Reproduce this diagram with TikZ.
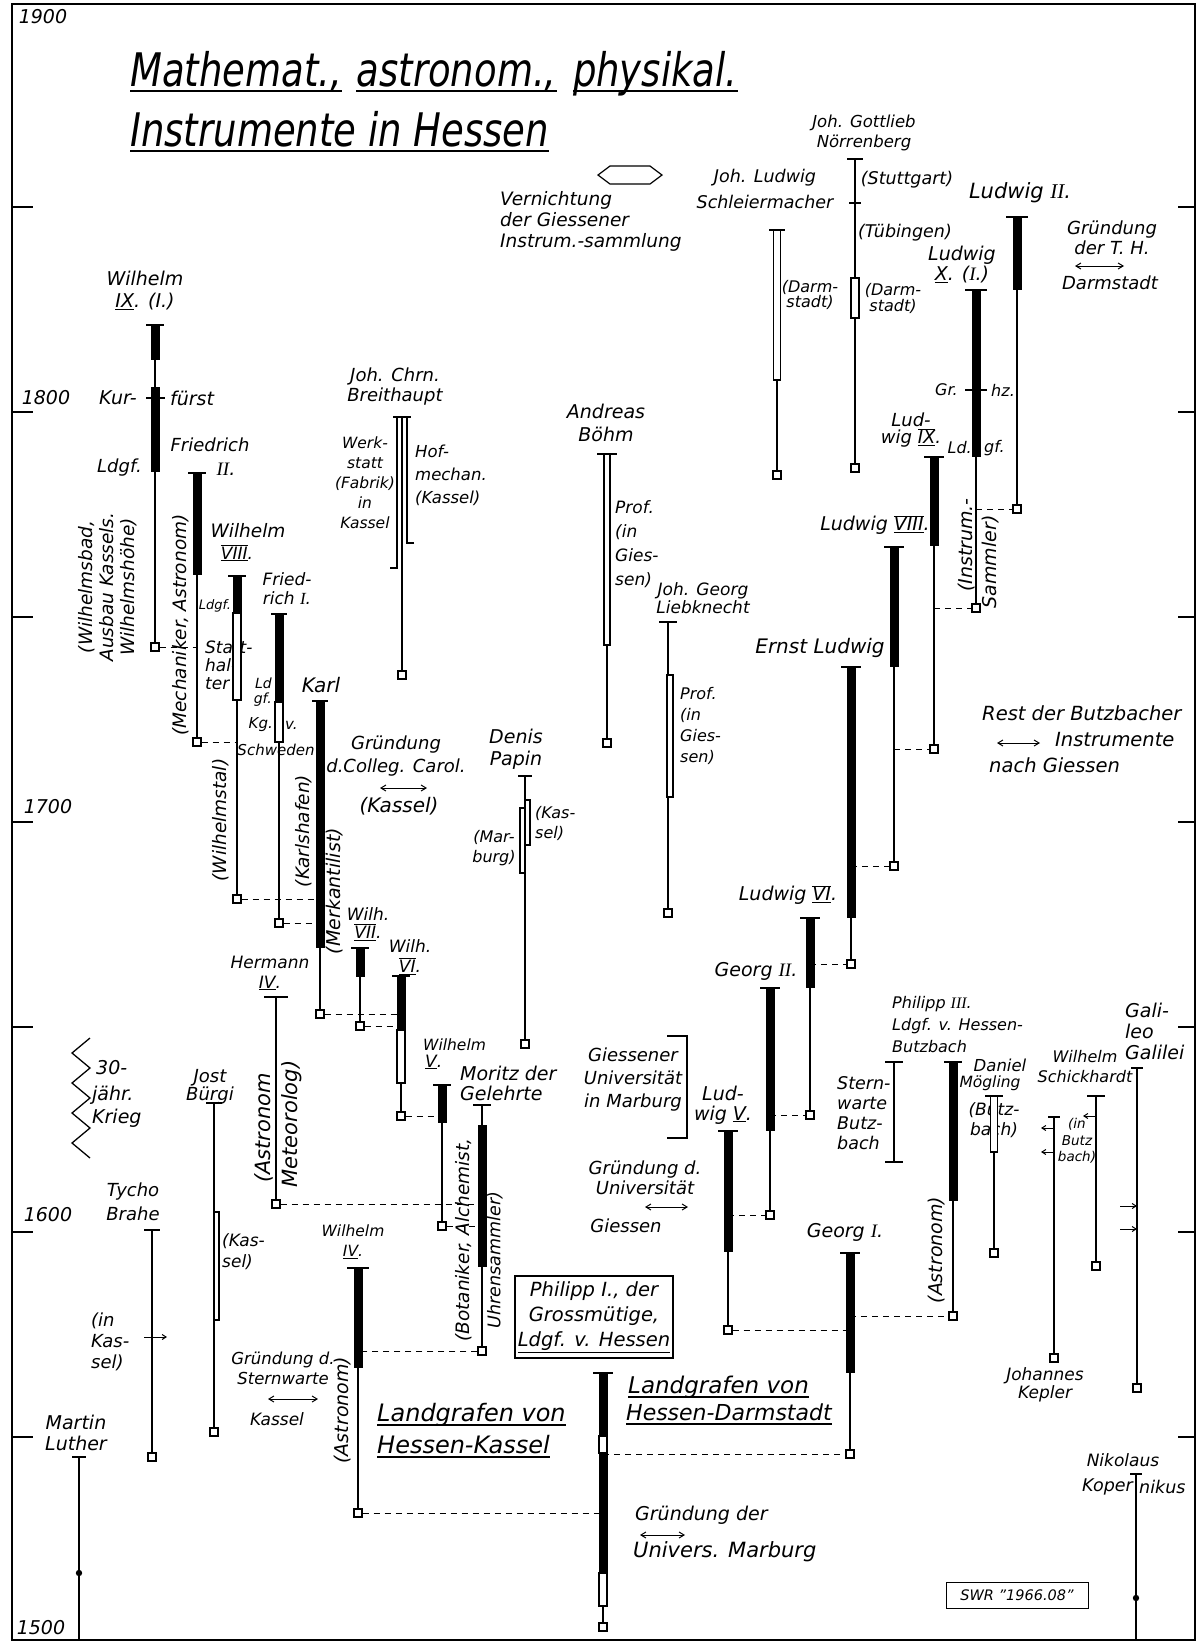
\documentclass[tikz,border=0pt]{standalone}
\usepackage{fontspec}
\usepackage{graphicx}
\setmainfont{DejaVu Sans}
\newfontfamily\rnf{Liberation Serif}
\usetikzlibrary{arrows.meta}
\newcommand{\RN}[1]{{\rnf\itshape #1}}
\newcommand{\RB}[1]{$\overline{\underline{\hbox{#1}}}$}
\newcommand{\UL}[1]{$\underline{\hbox{#1}}$}
\newcommand{\PersonLine}[5]{%
  \coordinate (#1-t) at (#2,#3);
  \coordinate (#1-b) at (#2,#4);
  \draw[life] (#1-t) -- (#1-b);
  \draw[capl] ([xshift=-#5]#1-t) -- ([xshift=#5]#1-t);}
\newcommand{\ThickSeg}[3]{\fill (#1-4.5,#2) rectangle (#1+4.5,#3);}
\newcommand{\HollowSeg}[4]{\draw[thinb,fill=white] (#1-#4,#2) rectangle (#1+#4,#3);}
\newcommand{\LifeSq}[1]{\node[sqn] (#1-sq) at (#1-b) {};}
\begin{document}
\begin{tikzpicture}[x=1pt,y=-1pt,
  life/.style={line width=1.3pt},
  thinb/.style={line width=1.1pt},
  capl/.style={line width=2pt},
  dashl/.style={line width=1pt, dash pattern=on 6pt off 5pt},
  sqn/.style={draw, line width=1.2pt, fill=white, minimum size=8pt, inner sep=0pt},
  lab/.style 2 args={font=\fontsize{#1}{#2}\selectfont\itshape, inner sep=0pt, align=center},
  ttl/.style={font=\fontsize{37}{40}\selectfont\itshape, inner sep=0pt},
  darr/.style={{Straight Barb[length=5pt,width=6pt]}-{Straight Barb[length=5pt,width=6pt]}, line width=1pt},
  sarr/.style={-{Straight Barb[length=4pt,width=5pt]}, line width=1pt}]
\useasboundingbox (0,0) rectangle (1197,1642);
% frame and ticks
\draw[line width=2.2pt] (12,4) rectangle (1195,1640);
\foreach \yy in {207,412,617,822,1027,1232,1437} {
  \draw[line width=2pt] (12,\yy) -- (33,\yy);
  \draw[line width=2pt] (1178,\yy) -- (1195,\yy);}
\node[lab={19}{21}] (y1900) at (43,17) {1900};
\node[lab={19}{21}] (y1800) at (46,398) {1800};
\node[lab={19}{21}] (y1700) at (48,807) {1700};
\node[lab={19}{21}] (y1600) at (48,1215) {1600};
\node[lab={19}{21}] (y1500) at (41,1628) {1500};
% title
\node[ttl, anchor=base west] (t1) at (130,86) {\scalebox{1}[1.25]{Mathemat.,}};
\node[ttl, anchor=base west] (t2) at ([xshift=14pt]t1.base east) {\scalebox{1}[1.25]{astronom.,}};
\node[ttl, anchor=base west] (t3) at ([xshift=16pt]t2.base east) {\scalebox{1}[1.25]{physikal.}};
\node[ttl, anchor=base west] (t4) at (130,146) {\scalebox{1}[1.25]{Instrumente in Hessen}};
\foreach \n in {t1,t2,t3,t4} {\draw[line width=1.5pt] ([yshift=-5pt]\n.base west) -- ([yshift=-5pt]\n.base east);}
% Vernichtung
\draw[line width=1.2pt] (598,175) -- (610,166) -- (650,166) -- (662,175) -- (650,184) -- (610,184) -- cycle;
\node[lab={18.5}{21}, align=left, anchor=west] (ver) at (500,221) {Vernichtung\\der Giessener\\Instrum.-sammlung};
% ---------- labels Kassel ----------
\node[lab={19}{22}] (w9l) at (145,291) {Wilhelm\\\UL{IX}. (I.)};
\node[lab={19}{21}, anchor=east] (w9k) at (137,398) {Kur-};
\node[lab={19}{21}, anchor=west] (w9f) at (170,398) {fürst};
\node[lab={18}{21}, anchor=east] (w9d) at (142,468) {Ldgf.};
\node[lab={18.5}{21}, rotate=90] (w9r) at (108,587) {(Wilhelmsbad,\\Ausbau Kassels.\\Wilhelmshöhe)};
\node[lab={18}{21}] (f2l) at (210,445) {Friedrich};
\node[lab={19}{21}] (f2n) at (226,469) {\RN{II}.};
\node[lab={18.5}{21}, rotate=90] (f2r) at (181,625) {(Mechaniker, Astronom)};
\node[lab={18.5}{21}] (w8l) at (248,531) {Wilhelm};
\node[lab={17}{21}] (w8n) at (237,553) {\RB{VIII}.};
\node[lab={13}{15}] (w8d) at (215,606) {Ldgf.};
\node[lab={17}{18}, align=left, anchor=west] (w8s) at (205,665) {Statt-\\hal-\\ter};
\node[lab={17}{19}] (f1l) at (287,589) {Fried-\\rich \RN{I}.};
\node[lab={14}{15}, align=right, anchor=east] (f1d) at (272,692) {Ld\\gf.};
\node[lab={15}{17}, anchor=east] (f1k) at (273,725) {Kg.};
\node[lab={15}{17}, anchor=west] (f1v) at (285,725) {v.};
\node[lab={15}{17}] (f1s) at (276,750) {Schweden};
\node[lab={20}{22}] (karll) at (321,685) {Karl};
\node[lab={18.5}{21}, rotate=90] (wst) at (221,820) {(Wilhelmstal)};
\node[lab={18.5}{21}, rotate=90] (khf) at (304,831) {(Karlshafen)};
\node[lab={19}{21}, rotate=90] (mrk) at (335,891) {(Merkantilist)};
\node[lab={17}{18}] (w7l) at (368,924) {Wilh.\\\RB{VII}.};
\node[lab={17}{20}] (w6l) at (410,957) {Wilh.\\\RB{VI}.};
\node[lab={17}{20}] (h4l) at (270,973) {Hermann\\\UL{IV}.};
\node[lab={21}{21}, rotate=90] (h4a) at (264,1128) {(Astronom};
\node[lab={21}{21}, rotate=90] (h4m) at (292,1124) {Meteorolog)};
\node[lab={15.5}{19}, anchor=west] (w5l) at (423,1045) {Wilhelm};
\node[lab={17}{19}, anchor=west] (w5n) at (425,1062) {\UL{V}.};
\node[lab={19}{20}, align=left, anchor=west] (morl) at (460,1083) {Moritz der\\Gelehrte};
\node[lab={18.5}{21}, rotate=90] (mora) at (464,1240) {(Botaniker, Alchemist,};
\node[lab={17.5}{21}, rotate=90] (moru) at (495,1260) {Uhrensammler)};
\node[draw, line width=1.2pt, minimum width=158pt, minimum height=82pt, inner sep=2pt, align=center, font=\fontsize{19.5}{25}\selectfont\itshape] (ph1) at (594,1317) {Philipp I., der\\Grossmütige,\\\underline{Ldgf. v. Hessen}};
\node[lab={15.5}{20}] (w4l) at (353,1242) {Wilhelm\\\UL{IV}.};
\node[lab={19}{21}, rotate=90] (w4a) at (343,1410) {(Astronom)};
\node[lab={16.5}{20}] (stw) at (283,1368) {Gründung d.\\Sternwarte};
\node[lab={17}{20}] (stwk) at (277,1419) {Kassel};
\node[lab={24}{26}, anchor=base west] (hk1) at (377,1421) {Landgrafen von};
\node[lab={24}{26}, anchor=base west] (hk2) at (377,1453) {Hessen-Kassel};
\node[lab={23}{26}, anchor=base west] (hd1) at (628,1393) {Landgrafen von};
\node[lab={22}{26}, anchor=base west] (hd2) at (626,1420) {Hessen-Darmstadt};
\foreach \n in {hk1,hk2,hd1,hd2} {\draw[line width=1.4pt] ([yshift=-4pt]\n.base west) -- ([yshift=-4pt]\n.base east);}
\node[lab={19}{21}, anchor=west] (um1) at (635,1515) {Gründung der};
\node[lab={21}{22}, anchor=west] (um2) at (633,1552) {Univers. Marburg};
\node[draw, line width=1pt, minimum width=142pt, minimum height=26pt, font=\fontsize{14.5}{17}\selectfont\itshape] (swr) at (1017,1595) {SWR "1966.08"};
% ---------- labels scholars ----------
\node[lab={17}{20}] (kopl) at (1123,1460) {Nikolaus};
\node[lab={17.5}{20}, anchor=east] (kop1) at (1133,1487) {Koper};
\node[lab={17.5}{20}, anchor=west] (kop2) at (1139,1487) {nikus};
\node[lab={17}{18}] (kepl) at (1045,1385) {Johannes\\Kepler};
\node[lab={19}{21}, align=left, anchor=west] (gall) at (1125,1031) {Gali-\\leo\\Galilei};
\node[lab={16}{20}] (sckl) at (1085,1067) {Wilhelm\\Schickhardt};
\node[lab={13.5}{16.5}] (sckb) at (1077,1141) {(in\\Butz\\bach)};
\node[lab={16.5}{18}] (moel1) at (1000,1065) {Daniel};
\node[lab={15.5}{18}] (moel2) at (990,1083) {Mögling};
\node[lab={17}{20}] (moeb) at (994,1120) {(Butz-\\bach)};
\node[lab={16}{22}, align=left, anchor=west] (p3l) at (892,1025) {Philipp \RN{III}.\\Ldgf. v. Hessen-\\Butzbach};
\node[lab={19}{21}, rotate=90] (p3a) at (937,1250) {(Astronom)};
\node[lab={17.5}{20}, align=left, anchor=west] (stb) at (837,1113) {Stern-\\warte\\Butz-\\bach};
\node[lab={19}{21}] (g1l) at (845,1232) {Georg \RN{I}.};
\node[lab={19}{20}] (l5l) at (723,1105) {Lud-\\wig \UL{V}.};
\node[lab={19}{21}] (g2l) at (756,971) {Georg \RN{II}.};
\node[lab={18}{23}] (giu) at (633,1080) {Giessener\\Universität\\in Marburg};
\node[lab={18}{20}] (gug) at (645,1178) {Gründung d.\\Universität};
\node[lab={18}{20}] (gug2) at (626,1226) {Giessen};
\node[lab={19}{21}] (l6l) at (788,895) {Ludwig \RB{VI}.};
\node[lab={20}{22}] (ell) at (820,648) {Ernst Ludwig};
\node[lab={19}{21}] (l8l) at (875,525) {Ludwig \RB{VIII}.};
\node[lab={18}{17}] (l9l) at (911,430) {Lud-\\wig \RB{IX}.};
\node[lab={16}{18}, anchor=east] (l9d1) at (972,448) {Ld.};
\node[lab={16}{18}, anchor=west] (l9d2) at (984,448) {gf.};
\node[lab={19}{20}, rotate=90] (ins1) at (967,545) {(Instrum.-};
\node[lab={19}{20}, rotate=90] (ins2) at (991,562) {Sammler)};
\node[lab={19}{20}] (l10l) at (962,265) {Ludwig\\\UL{X}. (\RN{I}.)};
\node[lab={16}{18}, anchor=east] (gr) at (958,390) {Gr.};
\node[lab={16}{18}, anchor=west] (hz) at (991,390) {hz.};
\node[lab={21}{22}] (l2l) at (1020,193) {Ludwig \RN{II}.};
\node[lab={18}{20}] (th1) at (1112,238) {Gründung\\der T. H.};
\node[lab={18}{20}] (th2) at (1110,283) {Darmstadt};
\node[lab={16.5}{20}] (norl) at (864,133) {Joh. Gottlieb\\Nörrenberg};
\node[lab={17.5}{20}] (nors) at (907,180) {(Stuttgart)};
\node[lab={17.5}{20}] (nort) at (905,233) {(Tübingen)};
\node[lab={16}{16}] (nord) at (893,298) {(Darm-\\stadt)};
\node[lab={17.5}{26}] (schl) at (765,189) {Joh. Ludwig\\Schleiermacher};
\node[lab={16}{15}] (schd) at (810,295) {(Darm-\\stadt)};
\node[lab={18}{20}] (brel) at (395,387) {Joh. Chrn.\\Breithaupt};
\node[lab={15.5}{20}] (brew) at (365,483) {Werk-\\statt\\(Fabrik)\\in\\Kassel};
\node[lab={16.5}{23}, align=left, anchor=west] (breh) at (415,475) {Hof-\\mechan.\\(Kassel)};
\node[lab={19}{23}] (boel) at (606,423) {Andreas\\Böhm};
\node[lab={17}{24}, align=left, anchor=west] (boep) at (615,544) {Prof.\\(in\\Gies-\\sen)};
\node[lab={17}{18}] (liel) at (703,598) {Joh. Georg\\Liebknecht};
\node[lab={16}{21}, align=left, anchor=west] (liep) at (680,726) {Prof.\\(in\\Gies-\\sen)};
\node[lab={19}{22}] (papl) at (516,749) {Denis\\Papin};
\node[lab={16}{20}, align=left, anchor=west] (papk) at (535,823) {(Kas-\\sel)};
\node[lab={16}{20}] (papm) at (494,848) {(Mar-\\burg)};
\node[lab={18}{23}] (col1) at (396,756) {Gründung\\d.Colleg. Carol.};
\node[lab={20}{22}] (col2) at (399,806) {(Kassel)};
\node[lab={19.5}{21}, anchor=west] (rest1) at (982,713) {Rest der Butzbacher};
\node[lab={19.5}{21}, anchor=west] (rest2) at (1055,740) {Instrumente};
\node[lab={19.5}{21}, anchor=west] (rest3) at (989,765) {nach Giessen};
\node[lab={19}{21}, anchor=west] (war1) at (96,1068) {30-};
\node[lab={19}{21}, anchor=west] (war2) at (92,1095) {jähr.};
\node[lab={19}{21}, anchor=west] (war3) at (92,1118) {Krieg};
\draw[line width=1.3pt] (90,1038) -- (72,1053) -- (90,1068) -- (72,1083) -- (90,1098) -- (72,1113) -- (90,1128) -- (72,1143) -- (90,1158);
\node[lab={18}{18}] (buel) at (210,1087) {Jost\\Bürgi};
\node[lab={17}{21}, align=left, anchor=west] (buek) at (222,1252) {(Kas-\\sel)};
\node[lab={18}{24}] (tyl) at (133,1202) {Tycho\\Brahe};
\node[lab={18}{21}, align=left, anchor=west] (tyk) at (91,1342) {(in\\Kas-\\sel)};
\node[lab={19}{21}] (lul) at (76,1433) {Martin\\Luther};
% ---------- double arrows ----------
\draw[darr] (268,1399) -- (318,1399);
\draw[darr] (380,788) -- (427,788);
\draw[darr] (640,1535) -- (685,1535);
\draw[darr] (645,1207) -- (688,1207);
\draw[darr] (997,743) -- (1040,743);
\draw[darr] (1075,266) -- (1124,266);
% brackets
\draw[thinb] (667,1036) -- (687,1036) -- (687,1138) -- (667,1138);
% ---------- life lines: Hessen-Kassel ----------
\PersonLine{w9}{155}{325}{647}{9}
\ThickSeg{155}{325}{360}\ThickSeg{155}{387}{472}
\draw[capl] (146,398) -- (165,398);
\PersonLine{f2}{197}{473}{742}{9}
\ThickSeg{197}{473}{575}
\PersonLine{w8}{237}{576}{899}{9}
\ThickSeg{237}{576}{613}\HollowSeg{237}{613}{700}{4}
\PersonLine{f1}{279}{614}{923}{8}
\ThickSeg{279}{614}{702}\HollowSeg{279}{702}{742}{4}
\PersonLine{karl}{320}{701}{1014}{8}
\ThickSeg{320}{701}{948}
\PersonLine{w7}{360}{948}{1026}{9}
\ThickSeg{360}{948}{977}
\PersonLine{w6}{401}{976}{1116}{9}
\ThickSeg{401}{976}{1030}\HollowSeg{401}{1030}{1083}{4}
\PersonLine{w5}{442}{1085}{1226}{9}
\ThickSeg{442}{1085}{1123}
\PersonLine{mor}{482}{1105}{1351}{9}
\ThickSeg{482}{1125}{1267}
\PersonLine{h4}{276}{997}{1204}{12}
\PersonLine{w4}{358}{1268}{1513}{11}
\ThickSeg{358}{1268}{1368}
\PersonLine{ph}{603}{1373}{1627}{10}
\ThickSeg{603}{1373}{1436}\HollowSeg{603}{1436}{1453}{4}\ThickSeg{603}{1453}{1573}\HollowSeg{603}{1573}{1606}{4}
% ---------- Hessen-Darmstadt ----------
\PersonLine{g1}{850}{1253}{1454}{10}
\ThickSeg{850}{1253}{1373}
\PersonLine{l5}{728}{1131}{1330}{10}
\ThickSeg{728}{1131}{1252}
\PersonLine{g2}{770}{988}{1215}{10}
\ThickSeg{770}{988}{1131}
\PersonLine{l6}{810}{918}{1115}{10}
\ThickSeg{810}{918}{988}
\PersonLine{el}{851}{667}{964}{10}
\ThickSeg{851}{667}{918}
\PersonLine{l8}{894}{547}{866}{10}
\ThickSeg{894}{547}{667}
\PersonLine{l9}{934}{457}{749}{10}
\ThickSeg{934}{457}{546}
\PersonLine{l10}{976}{290}{608}{11}
\ThickSeg{976}{290}{457}
\draw[capl] (965,390) -- (987,390);
\PersonLine{l2}{1017}{217}{509}{11}
\ThickSeg{1017}{217}{290}
\PersonLine{p3}{953}{1062}{1316}{9}
\ThickSeg{953}{1062}{1201}
% ---------- scholars ----------
\PersonLine{nor}{855}{159}{468}{8}
\draw[thinb] (849,203) -- (861,203);
\HollowSeg{855}{278}{318}{4}
\PersonLine{sch}{777}{230}{475}{8}
\HollowSeg{777}{230}{380}{3.5}
\PersonLine{bre}{402}{417}{675}{9}
\draw[thinb] (390,568) -- (397,568) -- (397,417);
\draw[thinb] (414,543) -- (407,543) -- (407,417);
\PersonLine{boe}{607}{454}{743}{10}
\HollowSeg{607}{454}{645}{3}
\PersonLine{lie}{668}{622}{913}{9}
\HollowSeg{670}{675}{797}{3}
\PersonLine{pap}{525}{776}{1044}{7}
\HollowSeg{527.5}{800}{845}{2.5}\HollowSeg{522.5}{808}{873}{2.5}
\PersonLine{bue}{214}{1103}{1432}{8}
\HollowSeg{216.5}{1212}{1320}{2.5}
\PersonLine{ty}{152}{1230}{1457}{8}
\PersonLine{moe}{994}{1096}{1253}{9}
\HollowSeg{994}{1096}{1152}{3.5}
\PersonLine{sck}{1096}{1096}{1266}{9}
\PersonLine{kep}{1054}{1117}{1358}{6}
\PersonLine{gal}{1137}{1068}{1388}{6}
\PersonLine{lu}{79}{1457}{1640}{7}
\fill (79,1573) circle (3.2pt);
\PersonLine{kop}{1136}{1474}{1640}{6}
\fill (1136,1598) circle (3.2pt);
\PersonLine{stb}{894}{1062}{1162}{9}
\draw[capl] (885,1162) -- (903,1162);
% small arrows
\draw[sarr] (144,1337) -- (167,1337);
\draw[sarr] (1054,1128) -- (1041,1128);
\draw[sarr] (1054,1152) -- (1041,1152);
\draw[sarr] (1096,1116) -- (1083,1116);
\draw[sarr] (1120,1206) -- (1137,1206);
\draw[sarr] (1120,1229) -- (1137,1229);
% squares
\foreach \p in {w9,f2,w8,f1,karl,w7,w6,w5,mor,h4,w4,ph,g1,l5,g2,l6,el,l8,l9,l10,l2,p3,nor,sch,bre,boe,lie,pap,bue,ty,moe,sck,kep,gal} {\LifeSq{\p}}
% dashed family connectors
\draw[dashl] (w9-sq.east) -- (w9-sq.east -| f2-t);
\draw[dashl] (f2-sq.east) -- (f2-sq.east -| w8-t);
\draw[dashl] (w8-sq.east) -- (w8-sq.east -| karl-t);
\draw[dashl] (f1-sq.east) -- (f1-sq.east -| karl-t);
\draw[dashl] (karl-sq.east) -- (karl-sq.east -| w6-t);
\draw[dashl] (w7-sq.east) -- (w7-sq.east -| w6-t);
\draw[dashl] (w6-sq.east) -- (w6-sq.east -| w5-t);
\draw[dashl] (w5-sq.east) -- (w5-sq.east -| mor-t);
\draw[dashl] (h4-sq.east) -- (h4-sq.east -| mor-t);
\draw[dashl] (mor-sq.west) -- (mor-sq.west -| w4-t);
\draw[dashl] (w4-sq.east) -- (w4-sq.east -| ph-t);
\draw[dashl] (g1-sq.west -| ph-t) -- (g1-sq.west);
\draw[dashl] (p3-sq.west -| g1-t) -- (p3-sq.west);
\draw[dashl] (l5-sq.east) -- (l5-sq.east -| g1-t);
\draw[dashl] (g2-sq.west -| l5-t) -- (g2-sq.west);
\draw[dashl] (l6-sq.west -| g2-t) -- (l6-sq.west);
\draw[dashl] (el-sq.west -| l6-t) -- (el-sq.west);
\draw[dashl] (l8-sq.west -| el-t) -- (l8-sq.west);
\draw[dashl] (l9-sq.west -| l8-t) -- (l9-sq.west);
\draw[dashl] (l10-sq.west -| l9-t) -- (l10-sq.west);
\draw[dashl] (l2-sq.west -| l10-t) -- (l2-sq.west);
\end{tikzpicture}
\end{document}
